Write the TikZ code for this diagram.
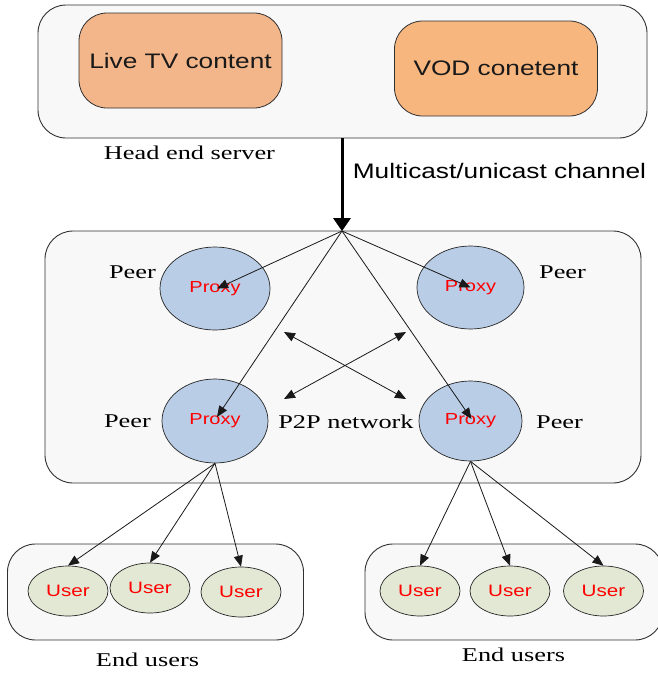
\documentclass[tikz,border=0pt]{standalone}
\usepackage{fontspec}
\usetikzlibrary{arrows.meta,shapes.geometric,calc}
\newfontfamily\armfont[FakeStretch=1.25]{Liberation Sans}
\newfontfamily\tmsfont[FakeStretch=1.35]{Liberation Serif}
\definecolor{boxfill}{HTML}{F8F8F8}
\definecolor{livefill}{HTML}{F2B68A}
\definecolor{vodfill}{HTML}{F8B67F}
\definecolor{proxyfill}{HTML}{B9CDE6}
\definecolor{userfill}{HTML}{E2E8D3}
\definecolor{edgegrey}{HTML}{303030}
\tikzset{
  x=1pt,y=-1pt,
  panel/.style={draw=edgegrey,fill=boxfill,line width=0.9pt,rounded corners=28pt,inner sep=0pt},
  content/.style={draw=edgegrey,fill=#1,line width=0.8pt,rounded corners=28pt,minimum width=203pt,minimum height=95pt,inner sep=0pt,
    font=\armfont\fontsize{21}{24}\selectfont,text=black!90},
  proxy/.style={ellipse,draw=black!85,fill=proxyfill,line width=0.7pt,inner sep=0pt,text=red,
    font=\armfont\fontsize{16}{18}\selectfont},
  usernode/.style={ellipse,draw=black!85,fill=userfill,line width=0.7pt,inner sep=0pt,text=red,
    minimum width=80pt,minimum height=50pt,font=\armfont\fontsize{16.5}{18}\selectfont},
  caption/.style={inner sep=0pt,text=black,font=\tmsfont\fontsize{19.5}{22}\selectfont},
  conn/.style={draw=black!90,line width=0.8pt,-{Triangle[length=11pt,width=9pt]}},
  bidir/.style={draw=black!90,line width=0.8pt,{Triangle[length=11pt,width=9pt]}-{Triangle[length=11pt,width=9pt]}},
  mainconn/.style={draw=black,line width=3pt,-{Triangle[length=13pt,width=18pt,line width=0pt]}}
}
\begin{document}
\begin{tikzpicture}
\useasboundingbox (0,0) rectangle (657,673);
% panels
\node[panel,minimum width=609pt,minimum height=133pt] (server) at (342.5,71.5) {};
\node[panel,minimum width=596pt,minimum height=252pt] (p2p) at (343,357) {};
\node[panel,minimum width=296pt,minimum height=96pt] (leftusers) at (155.5,592) {};
\node[panel,minimum width=298pt,minimum height=96pt] (rightusers) at (514,592) {};
% content
\node[content=livefill] (live) at (180.5,60.5) {Live TV content};
\node[content=vodfill] (vod) at (496,68.5) {VOD conetent};
% proxies
\node[proxy,minimum width=110pt,minimum height=83pt] (p1) at (215,288.5) {Proxy};
\node[proxy,minimum width=107pt,minimum height=83pt] (p2) at (470.5,287.5) {Proxy};
\node[proxy,minimum width=106pt,minimum height=84pt] (p3) at (215,421) {Proxy};
\node[proxy,minimum width=103pt,minimum height=80pt] (p4) at (470.5,421) {Proxy};
% users
\node[usernode] (u1) at (68,591) {User};
\node[usernode] (u2) at (150,588) {User};
\node[usernode] (u3) at (241,592) {User};
\node[usernode] (u4) at (420,591) {User};
\node[usernode] (u5) at (510,591) {User};
\node[usernode] (u6) at (603.5,591) {User};
% labels
\node[caption] (headlabel) at (189.5,153) {Head end server};
\node[inner sep=0pt,font=\armfont\fontsize{21}{24}\selectfont] (chanlabel) at (499.5,171) {Multicast/unicast channel};
\node[caption] (peer1) at (132.5,272.5) {Peer};
\node[caption] (peer2) at (562.5,272.5) {Peer};
\node[caption] (peer3) at (127.5,421.5) {Peer};
\node[caption] (peer4) at (559.5,422.5) {Peer};
\node[caption] (p2plabel) at (346,421.5) {P2P network};
\node[caption] (end1) at (147.5,660) {End users};
\node[caption] (end2) at (513.5,655) {End users};
% connectors
\coordinate (apex) at (342,231);
\coordinate (xa) at (284,332);
\coordinate (xb) at (406,399);
\coordinate (xc) at (406,332);
\coordinate (xd) at (284,399);
\draw[mainconn] (server.south -| apex) -- (apex);
\draw[conn] (apex) -- ($(p1.center)+(2,0)$);
\draw[conn] (apex) -- (p2.center);
\draw[conn] (apex) -- ($(p3.center)+(2,-4)$);
\draw[conn] (apex) -- ($(p4.center)+(1,-2)$);
\draw[bidir] (xa) -- (xb);
\draw[bidir] (xc) -- (xd);
\draw[conn] (p3.south) -- (u1.north);
\draw[conn] (p3.south) -- (u2.north);
\draw[conn] (p3.south) -- (u3.north);
\draw[conn] (p4.south) -- (u4.north);
\draw[conn] (p4.south) -- (u5.north);
\draw[conn] (p4.south) -- (u6.north);
\end{tikzpicture}
\end{document}
